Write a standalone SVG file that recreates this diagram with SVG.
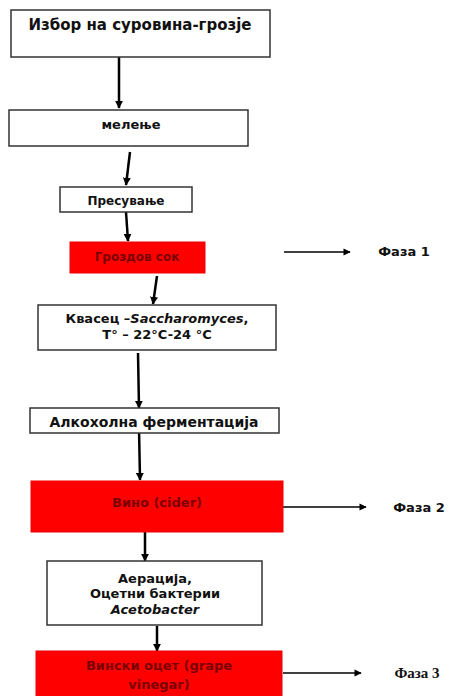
<svg xmlns="http://www.w3.org/2000/svg" width="449" height="696" viewBox="0 0 449 696">
<style>
.box{fill:#fff;stroke:#333;stroke-width:1.5}
.red{fill:#f00;stroke:#e00;stroke-width:1}
.t{font-family:"DejaVu Sans","Liberation Sans",Arial,sans-serif;font-weight:bold;fill:#111;text-anchor:middle;dominant-baseline:central}
.tr{font-family:"DejaVu Sans","Liberation Sans",Arial,sans-serif;font-weight:bold;fill:#7a0000;text-anchor:middle;dominant-baseline:central}
.c{stroke:#000;stroke-width:2.5;fill:none}
.p{stroke:#000;stroke-width:1.6;fill:none}
</style>
<defs>
<marker id="ah" viewBox="0 0 10 10" refX="9" refY="5" markerWidth="3.2" markerHeight="3.2" orient="auto" markerUnits="strokeWidth"><path d="M0,0 L10,5 L0,10 z" fill="#000"/></marker>
<marker id="ah2" viewBox="0 0 10 10" refX="9" refY="5" markerWidth="6" markerHeight="4.5" orient="auto" markerUnits="strokeWidth"><path d="M0,0 L10,5 L0,10 z" fill="#000"/></marker>
</defs>
<rect width="449" height="696" fill="#fff"/>
<g id="connectors">
<line class="c" x1="119" y1="57" x2="119" y2="108" marker-end="url(#ah)"/>
<line class="c" x1="130" y1="152" x2="126" y2="185" marker-end="url(#ah)"/>
<line class="c" x1="126" y1="212" x2="128" y2="241" marker-end="url(#ah)"/>
<line class="c" x1="157" y1="276" x2="153" y2="304" marker-end="url(#ah)"/>
<line class="c" x1="138" y1="353" x2="139" y2="408" marker-end="url(#ah)"/>
<line class="c" x1="139" y1="428" x2="140" y2="480" marker-end="url(#ah)"/>
<line class="c" x1="145" y1="532" x2="145" y2="561" marker-end="url(#ah)"/>
<line class="c" x1="157" y1="626" x2="157" y2="651" marker-end="url(#ah)"/>
<line class="p" x1="284" y1="252" x2="350" y2="252" marker-end="url(#ah2)"/>
<line class="p" x1="283" y1="507" x2="366" y2="507" marker-end="url(#ah2)"/>
<line class="p" x1="283" y1="673" x2="361" y2="673" marker-end="url(#ah2)"/>
</g>
<g id="n1"><rect class="box" x="11" y="10" width="259" height="47"/><text class="t" x="140" y="25" font-size="15">Избор на суровина-грозје</text></g>
<g id="n2"><rect class="box" x="9" y="110" width="239" height="36"/><text class="t" x="131" y="124" font-size="13">мелење</text></g>
<g id="n3"><rect class="box" x="60" y="187" width="132" height="25"/><text class="t" x="126" y="201" font-size="12">Пресување</text></g>
<g id="n4"><rect class="red" x="70" y="242" width="135" height="31"/><text class="tr" x="137" y="257" font-size="12">Гроздов сок</text></g>
<g id="n5"><rect class="box" x="38" y="305" width="238" height="45"/><text class="t" x="157" y="318" font-size="13">Квасец –<tspan font-style="italic">Saccharomyces</tspan>,</text><text class="t" x="157" y="334" font-size="13">T° – 22°C-24 °C</text></g>
<g id="n6"><rect class="box" x="30" y="408" width="249" height="25"/><text class="t" x="154" y="422" font-size="14">Алкохолна ферментација</text></g>
<g id="n7"><rect class="red" x="31" y="481" width="252" height="51"/><text class="tr" x="157" y="502" font-size="13">Вино (cider)</text></g>
<g id="n8"><rect class="box" x="47" y="561" width="215" height="64"/><text class="t" x="155" y="578" font-size="13">Аерација,</text><text class="t" x="155" y="593" font-size="13">Оцетни бактерии</text><text class="t" x="155" y="609" font-size="13" font-style="italic">Acetobacter</text></g>
<g id="n9"><rect class="red" x="36" y="651" width="246" height="50"/><text class="tr" x="159" y="665" font-size="13">Вински оцет (grape</text><text class="tr" x="159" y="684" font-size="13">vinegar)</text></g>
<g id="f1"><text class="t" x="404" y="251" font-size="13">Фаза 1</text></g>
<g id="f2"><text class="t" x="419" y="507" font-size="13">Фаза 2</text></g>
<g id="f3"><text class="t" x="417" y="673" font-size="15" style="font-family:'Liberation Serif',serif">Фаза 3</text></g>
</svg>
